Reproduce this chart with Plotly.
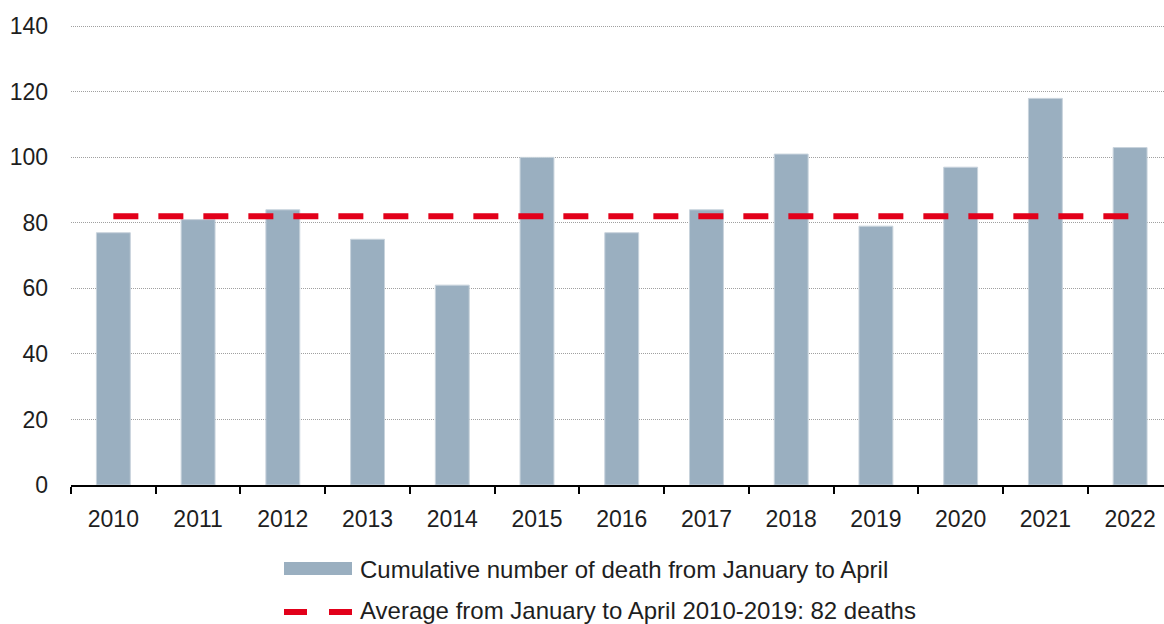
import plotly.graph_objects as go

years = ["2010", "2011", "2012", "2013", "2014", "2015", "2016", "2017", "2018", "2019", "2020", "2021", "2022"]
deaths = [77, 81, 84, 75, 61, 100, 77, 84, 101, 79, 97, 118, 103]
average_value = 82
average_line = [average_value] * len(years)
bar_name = "Cumulative number of death from January to April"
line_name = "Average from January to April 2010-2019: 82 deaths"

FONT = "Liberation Sans, Arial, sans-serif"
TXT = "#1e1e1e"
BAR_COLOR = "#9aafc0"
LINE_COLOR = "#e2001a"

W, H = 1164, 624
ML, MR, MT, MB = 71, 0, 25, 139
PW, PH = W - ML - MR, H - MT - MB


def px(x):
    return (x - ML) / PW


def py(y):
    return (H - MB - y) / PH


fig = go.Figure()
fig.add_trace(go.Bar(
    x=years, y=deaths, name=bar_name,
    marker=dict(color=BAR_COLOR, line=dict(color="#c8d3dc", width=1)),
    width=0.4,
))
fig.add_trace(go.Scatter(
    x=years, y=average_line, name=line_name, mode="lines",
    line=dict(color=LINE_COLOR, width=6, dash="25px,20px"),
))

shapes = [
    dict(type="rect", xref="paper", yref="paper",
         x0=px(284), x1=px(352), y0=py(575), y1=py(562),
         fillcolor=BAR_COLOR, line=dict(width=0)),
    dict(type="line", xref="paper", yref="paper",
         x0=px(284), x1=px(307), y0=py(612), y1=py(612),
         line=dict(color=LINE_COLOR, width=6)),
    dict(type="line", xref="paper", yref="paper",
         x0=px(329), x1=px(352), y0=py(612), y1=py(612),
         line=dict(color=LINE_COLOR, width=6)),
]
annotations = [
    dict(xref="paper", yref="paper", x=px(358), y=py(569), xanchor="left", yanchor="middle",
         text=bar_name, showarrow=False, font=dict(family=FONT, size=24, color=TXT)),
    dict(xref="paper", yref="paper", x=px(358), y=py(610), xanchor="left", yanchor="middle",
         text=line_name, showarrow=False, font=dict(family=FONT, size=24, color=TXT)),
]

fig.update_layout(
    width=W, height=H,
    margin=dict(l=ML, r=MR, t=MT, b=MB, autoexpand=False),
    paper_bgcolor="white", plot_bgcolor="white",
    font=dict(family=FONT, size=23, color=TXT),
    showlegend=False,
    shapes=shapes,
    annotations=annotations,
)
fig.update_xaxes(
    type="category", range=[-0.5, 12.4],
    showline=True, linecolor="#000000", linewidth=2,
    ticks="outside", tickson="boundaries", ticklen=7, tickwidth=2, tickcolor="#000000",
    showgrid=False, tickfont=dict(size=23, color=TXT), ticklabelstandoff=12,
)
fig.update_yaxes(
    range=[0, 140.4], tickvals=[0, 20, 40, 60, 80, 100, 120, 140],
    showgrid=True, gridcolor="#a0a0a0", griddash="1px,1px", gridwidth=1,
    zeroline=False, showline=False, ticks="",
    tickfont=dict(size=23, color=TXT), ticklabelstandoff=22,
)

fig.write_html(
    "out.html",
    config={"displayModeBar": False},
    post_script="document.body.style.margin='0';document.body.style.overflow='hidden';",
)
